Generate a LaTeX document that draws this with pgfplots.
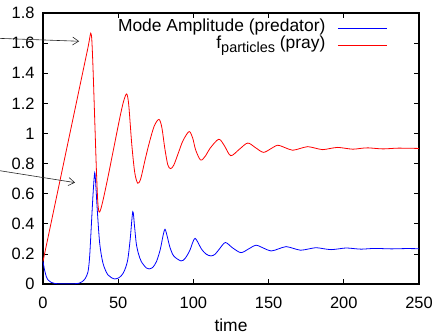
\documentclass[border=0pt]{standalone}
\usepackage{fontspec}
\setmainfont{Liberation Sans}
\usepackage{pgfplots}
\pgfplotsset{compat=1.18}
\usetikzlibrary{arrows.meta}
\begin{document}
\begin{tikzpicture}
\begin{axis}[
  scale only axis, width=376bp, height=271bp,
  xmin=0, xmax=250, ymin=0, ymax=1.8,
  xtick={0,50,100,150,200,250},
  ytick={0,0.2,0.4,0.6,0.8,1,1.2,1.4,1.6,1.8},
  tick align=inside, tick pos=both,
  xticklabel pos=lower, yticklabel pos=left,
  major tick length=5bp,
  tick style={black, line width=0.6bp},
  axis line style={black, line width=1.4bp},
  /pgf/number format/assume math mode=true,
  yticklabel style={/pgf/number format/fixed, font=\fontsize{16.5}{18}\selectfont, xshift=-5bp},
  xticklabel style={font=\fontsize{16.5}{18}\selectfont, yshift=-10bp},
  xlabel={time},
  xlabel style={font=\fontsize{17.5}{20}\selectfont, yshift=-3bp},
  clip=false,
  legend plot pos=right,
  legend cell align=right,
  legend image code/.code={\draw[#1] (0bp,0bp) -- (49bp,0bp);},
  legend style={at={(axis cs:229,1.755)}, anchor=north east, draw=none, fill=none,
    inner sep=0pt, column sep=12bp, row sep=0pt,
    font=\fontsize{17.5}{20}\selectfont,
    nodes={inner sep=0pt, text height=12bp, text depth=5bp}},
]
\addplot[blue, line width=0.8bp, smooth] coordinates {
(0,0.15) (1,0.095) (2.2,0.049) (3.5,0.025) (5.5,0.01) (8,0.003) (12,0.001) (20,0.001)
(24,0.005) (26,0.015) (28,0.035) (29.9,0.08) (31,0.18) (32.1,0.38) (33.3,0.6) (34.4,0.739)
(35.2,0.64) (36.1,0.49) (37.7,0.27) (39.9,0.137) (43.2,0.06) (47.7,0.033) (51,0.045)
(53.2,0.07) (55,0.11) (56.5,0.17) (58,0.3) (59.7,0.48) (60.8,0.39) (62,0.27) (63.5,0.2)
(65.4,0.148) (68.7,0.106) (70.5,0.10) (73,0.11) (75.5,0.15) (78,0.23) (79.8,0.32)
(81.1,0.363) (82.5,0.32) (84.5,0.24) (87,0.185) (91.8,0.153) (94.5,0.17) (97.5,0.22)
(99.7,0.28) (101.1,0.303) (102.8,0.28) (105.5,0.23) (108.5,0.198) (111.7,0.186)
(114.5,0.198) (117.5,0.235) (121.3,0.275) (126,0.24) (131.6,0.208) (136.6,0.232)
(141.6,0.257) (146.6,0.238) (151.6,0.219) (156.6,0.233) (161.6,0.248) (166.5,0.236)
(171.3,0.224) (176.4,0.232) (181.5,0.241) (186.5,0.234) (191.5,0.228) (196.5,0.233)
(201.5,0.239) (206.5,0.235) (211.5,0.231) (216.5,0.234) (221.5,0.236) (231.5,0.233)
(241.5,0.235) (250,0.234)
};
\addlegendentry{Mode Amplitude (predator)}
\addplot[red, line width=0.8bp, smooth] coordinates {
(0,0.15) (10,0.625) (20,1.10) (28,1.48) (30,1.575) (31,1.63) (31.7,1.665) (32.4,1.63)
(33.2,1.45) (34.4,1.09) (35.5,0.76) (36.4,0.55) (37.2,0.48) (38.2,0.49) (40,0.56)
(43,0.70) (47,0.9) (51,1.1) (53.5,1.21) (55.6,1.262) (57,1.19) (59,0.93) (61,0.74)
(63,0.669) (65,0.70) (68,0.83) (71,0.95) (74,1.05) (77.1,1.093) (79,1.04) (81,0.90)
(83,0.79) (84.9,0.766) (87,0.79) (90,0.87) (93,0.95) (97.1,1.012) (99.5,0.97)
(101.5,0.89) (104.8,0.823) (108,0.85) (111,0.9) (116.8,0.961) (120.5,0.92)
(124.8,0.852) (130.5,0.894) (136.1,0.936) (141.3,0.905) (146.5,0.874) (151.3,0.897)
(156,0.921) (161,0.905) (166,0.888) (171,0.9) (176,0.912) (181,0.902) (186,0.892)
(191,0.9) (196,0.907) (201,0.901) (206,0.895) (211,0.9) (216,0.904) (226,0.897)
(236,0.902) (250,0.9)
};
\addlegendentry{f\raisebox{-4bp}{\fontsize{14.5}{15}\selectfont particles} (pray)}
\draw[-{Straight Barb[length=6bp,width=8bp]}, line width=0.6bp, black!85]
  (axis cs:-28.6,1.631) -- (axis cs:24,1.612);
\draw[-{Straight Barb[length=6bp,width=8bp]}, line width=0.6bp, black!85]
  (axis cs:-28.6,0.752) -- (axis cs:21.3,0.673);
\coordinate (bl) at (axis cs:-28.59,-0.345);
\coordinate (tr) at (axis cs:263.3,1.886);
\end{axis}
\pgfresetboundingbox
\path[use as bounding box] (bl) rectangle (tr);
\end{tikzpicture}
\end{document}
